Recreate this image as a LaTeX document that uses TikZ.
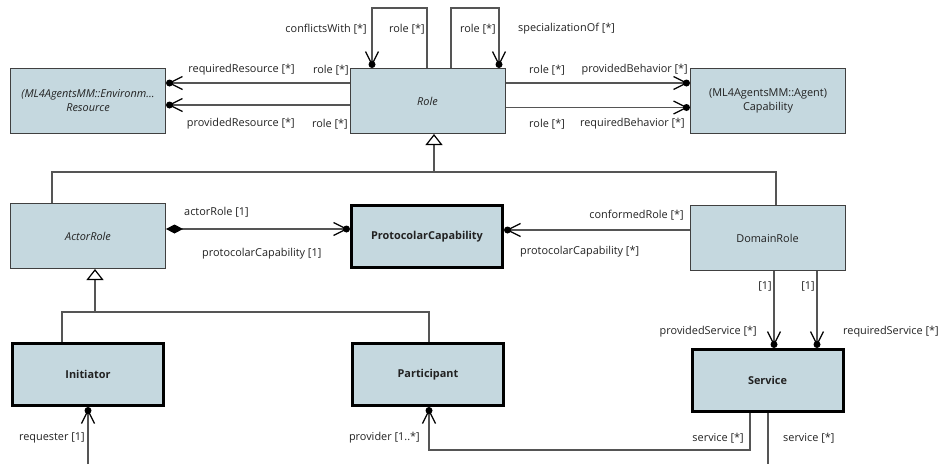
\documentclass[tikz,border=0pt]{standalone}
\usepackage{fontspec}
\setmainfont{Open Sans}
\usetikzlibrary{arrows.meta}
\definecolor{boxfill}{HTML}{C5D8DF}
\definecolor{edgec}{HTML}{555555}
\definecolor{txt}{HTML}{222222}
\newcommand{\dfont}{\fontsize{10.9}{14}\selectfont}
\pgfdeclarearrow{
  name = dotbarb,
  setup code = {
    \pgfarrowssettipend{3.5pt}
    \pgfarrowssetlineend{0pt}
    \pgfarrowssetbackend{-13pt}
    \pgfarrowssetvisualbackend{-13pt}
    \pgfarrowsupperhullpoint{-13pt}{6.5pt}
    \pgfarrowsupperhullpoint{3.5pt}{3.5pt}
  },
  drawing code = {
    \pgfsetstrokecolor{black}\pgfsetfillcolor{black}
    \pgfsetlinewidth{1.3pt}
    \pgfpathcircle{\pgfpointorigin}{3.5pt}
    \pgfusepathqfill
    \pgfpathmoveto{\pgfqpoint{-13pt}{6.5pt}}
    \pgfpathlineto{\pgfpointorigin}
    \pgfpathlineto{\pgfqpoint{-13pt}{-6.5pt}}
    \pgfusepathqstroke
  }
}
\tikzset{
  cls/.style={draw=black!75, line width=1pt, fill=boxfill, minimum width=155pt,
    minimum height=65pt, inner sep=2pt, align=center, text=txt,
    font=\dfont},
  clsb/.style={cls, draw=black, line width=3pt, minimum width=151pt,
    minimum height=62pt, font=\dfont\bfseries},
  lbl/.style={inner sep=0pt, text=txt, font=\dfont},
  conn/.style={draw=edgec, line width=1.2pt},
  assoc/.style={conn, -{dotbarb}},
  gen/.style={conn, -{Triangle[open, length=11pt, width=17pt, fill=white, color=black, line width=1.2pt]}}
}
\begin{document}
\begin{tikzpicture}[x=1pt, y=-1pt]
\useasboundingbox (0,0) rectangle (943,464);
% classes
\node[cls, font=\dfont\itshape] (res) at (88,101) {(ML4AgentsMM::Environm...\\Resource};
\node[cls, font=\dfont\itshape] (role) at (427.5,101) {Role};
\node[cls] (cap) at (768,101) {(ML4AgentsMM::Agent)\\Capability};
\node[cls, font=\dfont\itshape] (actor) at (88,236) {ActorRole};
\node[clsb] (proto) at (427,236.5) {ProtocolarCapability};
\node[cls] (domain) at (767.5,238) {DomainRole};
\node[clsb] (init) at (88,374.5) {Initiator};
\node[clsb] (part) at (428,374.5) {Participant};
\node[clsb] (service) at (767.5,380.5) {Service};
% free ends
\coordinate (gj) at (434,172);
\coordinate (gj2) at (95,312);
\coordinate (ib) at (88,464);
\coordinate (sb) at (768,464);
% role - resource
\draw[assoc] ([yshift=18pt]role.west) -- ([yshift=18pt]role.west -| res.east);
\draw[assoc] ([yshift=-4pt]role.west) -- ([yshift=-4pt]role.west -| res.east);
% role - capability
\draw[assoc] ([yshift=18pt]role.east) -- ([yshift=18pt]role.east -| cap.west);
\draw[assoc] ([yshift=-6.5pt]role.east) -- ([yshift=-6.5pt]role.east -| cap.west);
% self loops
\draw[assoc] ([xshift=-0.5pt]role.north) -- ++(0,-60) -| ([xshift=-55.5pt]role.north);
\draw[assoc] ([xshift=23.5pt]role.north) -- ++(0,-60) -| ([xshift=71.5pt]role.north);
% generalisation to Role
\draw[conn] ([xshift=-36pt]actor.north) |- (gj);
\draw[conn] ([xshift=8.5pt]domain.north) |- (gj);
\draw[gen] (gj) -- (gj |- role.south);
% generalisation to ActorRole
\draw[conn] ([xshift=-26pt]init.north) |- (gj2);
\draw[conn] ([xshift=1pt]part.north) |- (gj2);
\draw[gen] (gj2) -- (gj2 |- actor.south);
% actorRole composition
\draw[conn, {Diamond[length=17pt, width=9pt, color=black]}-{dotbarb}] ([yshift=7pt]actor.east) -- ([yshift=7pt]actor.east -| proto.west);
% conformedRole
\draw[assoc] ([yshift=8pt]domain.west) -- ([yshift=8pt]domain.west -| proto.east);
% domain - service
\draw[assoc] ([xshift=6.5pt]domain.south) -- ([xshift=6.5pt]service.north);
\draw[assoc] ([xshift=49.5pt]domain.south) -- ([xshift=49.5pt]service.north);
% service - participant
\draw[assoc] ([xshift=-17.5pt]service.south) -- ++(0,37) -| ([xshift=1pt]part.south);
% service / initiator open ends
\draw[conn] ([xshift=0.5pt]service.south) -- (sb);
\draw[assoc] (ib) -- (init.south);
% labels
\node[lbl, anchor=east] (l1) at (367,29) {conflictsWith [*]};
\node[lbl, anchor=east] (l2) at (425,29) {role [*]};
\node[lbl, anchor=east] (l3) at (496,29) {role [*]};
\node[lbl, anchor=west] (l4) at (518,29) {specializationOf [*]};
\node[lbl, anchor=east] (l5) at (295,70) {requiredResource [*]};
\node[lbl, anchor=east] (l6) at (349,70) {role [*]};
\node[lbl, anchor=east] (l7) at (295,124) {providedResource [*]};
\node[lbl, anchor=east] (l8) at (348,124) {role [*]};
\node[lbl, anchor=west] (l9) at (529,70) {role [*]};
\node[lbl, anchor=east] (l10) at (688,70) {providedBehavior [*]};
\node[lbl, anchor=west] (l11) at (529,124) {role [*]};
\node[lbl, anchor=east] (l12) at (685,124) {requiredBehavior [*]};
\node[lbl, anchor=west] (l13) at (184,212) {actorRole [1]};
\node[lbl, anchor=west] (l14) at (202,254) {protocolarCapability [1]};
\node[lbl, anchor=east] (l15) at (684,215) {conformedRole [*]};
\node[lbl, anchor=west] (l16) at (520,252) {protocolarCapability [*]};
\node[lbl, anchor=east] (l17) at (772,286) {[1]};
\node[lbl, anchor=east] (l18) at (815,286) {[1]};
\node[lbl, anchor=east] (l19) at (757,332) {providedService [*]};
\node[lbl, anchor=west] (l20) at (843,332) {requiredService [*]};
\node[lbl, anchor=east] (l21) at (85,438) {requester [1]};
\node[lbl, anchor=east] (l22) at (420,438) {provider [1..*]};
\node[lbl, anchor=east] (l23) at (744,438) {service [*]};
\node[lbl, anchor=west] (l24) at (783,438) {service [*]};
\end{tikzpicture}
\end{document}
